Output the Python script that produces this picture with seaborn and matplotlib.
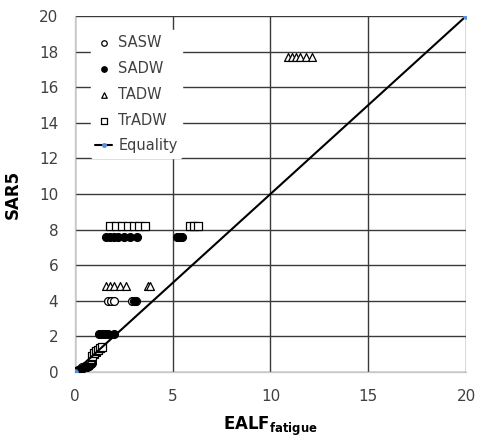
import matplotlib
matplotlib.use("Agg")
import matplotlib.pyplot as plt
import seaborn as sns

# ---- data ----
sasw_x = [0.05, 0.15, 0.25, 0.35, 0.5, 1.7, 1.85, 2.0, 2.9, 3.0, 3.1]
sasw_y = [0.05, 0.1, 0.15, 0.25, 0.35, 4.0, 4.0, 4.0, 4.0, 4.0, 4.0]

sadw_x = [0.0, 0.1, 0.2, 0.3, 0.4, 0.5, 0.6, 0.7, 0.8, 0.9,
          1.25, 1.4, 1.55, 1.7, 2.0,
          1.6, 1.8, 2.0, 2.2, 2.5, 2.8, 3.2,
          5.2, 5.35, 5.5, 3.05]
sadw_y = [0.0, 0.05, 0.1, 0.15, 0.2, 0.25, 0.3, 0.35, 0.45, 0.5,
          2.1, 2.1, 2.1, 2.1, 2.1,
          7.6, 7.6, 7.6, 7.6, 7.6, 7.6, 7.6,
          7.6, 7.6, 7.6, 4.0]

tadw_x = [0.8, 0.9, 1.0, 1.1,
          1.6, 1.8, 2.0, 2.3, 2.6,
          3.75, 3.85,
          10.9, 11.1, 11.3, 11.5, 11.8, 12.1]
tadw_y = [0.7, 0.85, 1.0, 1.1,
          4.8, 4.8, 4.8, 4.8, 4.8,
          4.8, 4.8,
          17.7, 17.7, 17.7, 17.7, 17.7, 17.7]

tradw_x = [0.9, 1.0, 1.1, 1.2, 1.3, 1.4,
           1.8, 2.1, 2.4, 2.7, 3.0, 3.3, 3.6,
           5.9, 6.1, 6.3]
tradw_y = [0.9, 1.05, 1.15, 1.25, 1.35, 1.4,
           8.2, 8.2, 8.2, 8.2, 8.2, 8.2, 8.2,
           8.2, 8.2, 8.2]

eq_x = [0, 20]
eq_y = [0, 20]

x_ticks = [0, 5, 10, 15, 20]
y_ticks = [0, 2, 4, 6, 8, 10, 12, 14, 16, 18, 20]

# ---- plot ----
sns.set_style("white")
plt.rcParams['font.family'] = ['DejaVu Sans']

fig = plt.figure(figsize=(4.83, 4.48), dpi=100)
ax = fig.add_axes([0.155, 0.170, 0.810, 0.794])

grid_c = "#3a3a3a"
for v in y_ticks:
    ax.axhline(v, color=grid_c, lw=1.0, zorder=0)
for v in x_ticks:
    ax.axvline(v, color=grid_c, lw=1.0, zorder=0)

ms = 32
sns.scatterplot(x=sasw_x, y=sasw_y, ax=ax, marker='o', s=ms, facecolor='white',
                edgecolor='black', linewidth=0.9, label='SASW', zorder=3)
sns.scatterplot(x=sadw_x, y=sadw_y, ax=ax, marker='o', s=ms, color='black',
                edgecolor='black', linewidth=0.9, label='SADW', zorder=3)
sns.scatterplot(x=tadw_x, y=tadw_y, ax=ax, marker='^', s=ms, facecolor='white',
                edgecolor='black', linewidth=0.9, label='TADW', zorder=3)
sns.scatterplot(x=tradw_x, y=tradw_y, ax=ax, marker='s', s=ms, facecolor='white',
                edgecolor='black', linewidth=0.9, label='TrADW', zorder=3)
sns.lineplot(x=eq_x, y=eq_y, ax=ax, color='black', lw=1.5, marker='o',
             markersize=4, markerfacecolor='#5b8ede', markeredgecolor='#5b8ede',
             label='Equality', zorder=4)

ax.set_xlim(0, 20)
ax.set_ylim(0, 20)
ax.set_xticks(x_ticks)
ax.set_yticks(y_ticks)
ax.tick_params(axis='y', labelsize=11, colors='#404040', length=0, pad=12)
ax.tick_params(axis='x', labelsize=11, colors='#404040', length=0, pad=12)
for s in ['top', 'right']:
    ax.spines[s].set_visible(False)
for s in ['left', 'bottom']:
    ax.spines[s].set_color('#c8c8c8')
    ax.spines[s].set_linewidth(1.0)

ax.set_xlabel(r"$\mathbf{EALF}_{\mathbf{fatigue}}$", fontsize=12, color='black', labelpad=8)
ax.set_ylabel("SAR5", fontsize=12, fontweight='bold', color='black', labelpad=12)

leg = ax.legend(loc='upper left', bbox_to_anchor=(0.04, 0.96), frameon=True,
                fontsize=10.5, handlelength=1.2, handletextpad=0.4,
                labelspacing=0.75, borderpad=0.3, borderaxespad=0.0,
                markerscale=0.7)
leg.get_frame().set_edgecolor('white')
leg.get_frame().set_facecolor('white')
leg.get_frame().set_alpha(1.0)
for t in leg.get_texts():
    t.set_color('#404040')

fig.savefig("out.png", dpi=100)
